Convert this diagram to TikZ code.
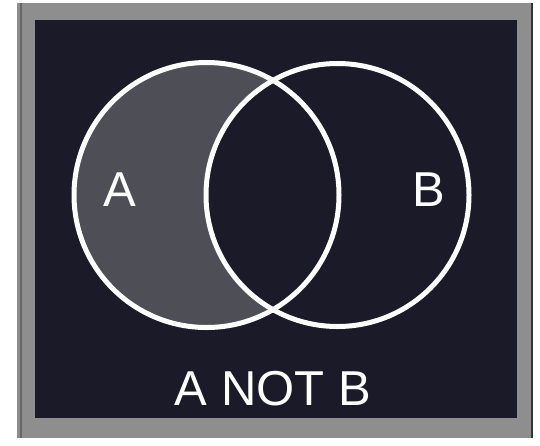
\documentclass[tikz,border=0pt]{standalone}
\usepackage{fontspec}
\setmainfont{Liberation Sans}
\definecolor{bgdark}{HTML}{1B1A29}
\definecolor{framegray}{HTML}{8E8E8E}
\definecolor{agray}{HTML}{4E4E57}
\tikzset{
  setcircle/.style={circle, draw=white, line width=5pt, inner sep=0pt},
  lbl/.style={text=white, font=\fontsize{49}{54}\selectfont, inner sep=0pt}
}
\begin{document}
\begin{tikzpicture}[x=1pt,y=-1pt]
\useasboundingbox (0,0) rectangle (540,445);
\fill[white] (0,0) rectangle (540,445);
\fill[framegray] (17,3) rectangle (533,438);
\draw[black!60, line width=1.5pt] (21,3) -- (21,438);
\draw[black!80, line width=2pt] (532,3) -- (532,438);
\fill[bgdark] (35,20) rectangle (517,418);
\begin{scope}
  \clip (206.5,195) circle[radius=132.5];
  \fill[agray] (206.5,195) circle[radius=132.5];
  \fill[bgdark] (337.5,195) circle[radius=131.5];
\end{scope}
\node[setcircle, minimum size=265pt] (A) at (206.5,195) {};
\node[setcircle, minimum size=263pt] (B) at (337.5,195) {};
\node[lbl] (la) at (120,190) {A};
\node[lbl] (lb) at (429,190) {B};
\node[lbl] (title) at (273,389) {A NOT B};
\end{tikzpicture}
\end{document}
